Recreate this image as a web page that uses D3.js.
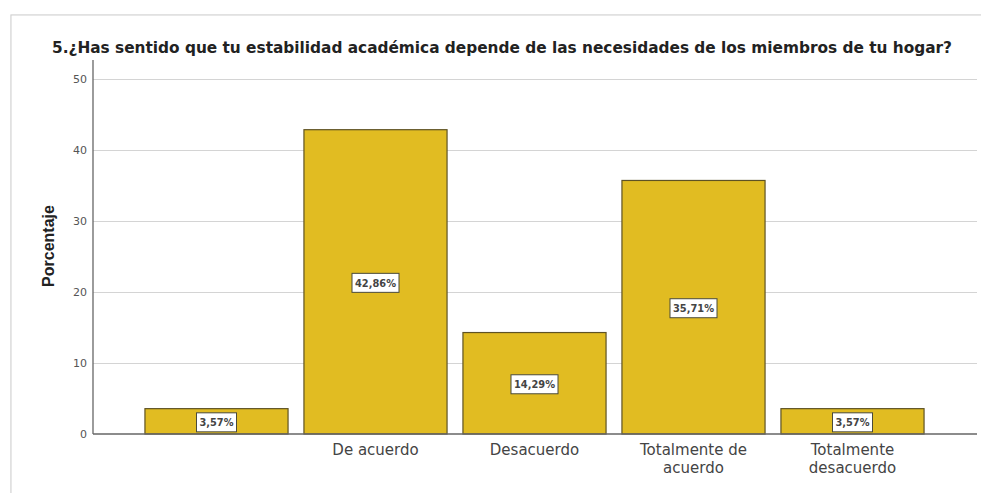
<!DOCTYPE html>
<html>
<head>
<meta charset="utf-8">
<script src="https://d3js.org/d3.v7.min.js"></script>
<style>
  body { margin: 0; background: #fff; }
  svg { display: block; font-family: "Liberation Sans", Arial, sans-serif; }
  .grid line { stroke: #d4d4d4; }
  .grid path { display: none; }
  .ytick text { fill: #555; font-size: 11px; font-family: "DejaVu Sans", sans-serif; }
  .xlab { fill: #444; font-size: 15px; font-family: "DejaVu Sans", sans-serif; }
  .bar { fill: #e1bc22; stroke: #5e5224; stroke-width: 1.2; }
  .lbl-box { fill: #fff; stroke: #4a4a3a; stroke-width: 1; }
  .lbl { fill: #444; font-size: 11px; font-weight: bold; font-family: "DejaVu Sans", sans-serif; }
</style>
</head>
<body>
<div id="chart"></div>
<script>
// categories (first one has no label in the original output)
const categories = ["", "De acuerdo", "Desacuerdo", "Totalmente de acuerdo", "Totalmente desacuerdo"];
const catLines = [[""], ["De acuerdo"], ["Desacuerdo"], ["Totalmente de", "acuerdo"], ["Totalmente", "desacuerdo"]];
const values = [3.57, 42.86, 14.29, 35.71, 3.57];
const valueLabels = ["3,57%", "42,86%", "14,29%", "35,71%", "3,57%"];
const yTicks = [0, 10, 20, 30, 40, 50];

const W = 981, H = 493;
const svg = d3.select("#chart").append("svg").attr("width", W).attr("height", H);

// frame with light shadow
svg.append("rect").attr("x", 12).attr("y", 16).attr("width", W).attr("height", H)
  .attr("fill", "none").attr("stroke", "#e8e8e8").attr("stroke-width", 3);
svg.append("rect").attr("x", 11).attr("y", 15).attr("width", W).attr("height", H)
  .attr("fill", "#fff").attr("stroke", "#cfcfcf").attr("stroke-width", 1);

const axisX = 93, axisRight = 977;
const y = d3.scaleLinear().domain([0, 50]).range([434, 79]);
const x = d3.scaleBand().domain(categories).range([137, 932])
  .paddingInner(0.1).paddingOuter(0.05);

// title
svg.append("text").attr("x", 52).attr("y", 53)
  .attr("font-family", "'DejaVu Sans', sans-serif")
  .attr("font-size", "15px").attr("font-weight", "bold").attr("fill", "#222")
  .attr("textLength", 900).attr("lengthAdjust", "spacingAndGlyphs")
  .text("5.¿Has sentido que tu estabilidad académica depende de las necesidades de los miembros de tu hogar?");

// gridlines
svg.append("g").attr("class", "grid")
  .attr("transform", `translate(${axisX},0)`)
  .call(d3.axisRight(y).tickValues(yTicks.slice(1)).tickSize(axisRight - axisX).tickFormat(""));

// y tick labels
svg.append("g").attr("class", "ytick")
  .selectAll("text").data(yTicks).join("text")
  .attr("x", 87).attr("y", d => y(d)).attr("dy", "0.35em")
  .attr("text-anchor", "end").text(d => d);

// bars
svg.selectAll(".bar").data(values).join("rect")
  .attr("class", "bar")
  .attr("x", (d, i) => x(categories[i]))
  .attr("y", d => y(d))
  .attr("width", x.bandwidth())
  .attr("height", d => y(0) - y(d));

// axes lines
svg.append("line").attr("x1", axisX).attr("x2", axisX).attr("y1", 60).attr("y2", y(0))
  .attr("stroke", "#666").attr("stroke-width", 1.3);
svg.append("line").attr("x1", axisX).attr("x2", axisRight).attr("y1", y(0)).attr("y2", y(0))
  .attr("stroke", "#666").attr("stroke-width", 1.3);

// value labels
const lg = svg.selectAll(".vl").data(values).join("g").attr("class", "vl")
  .attr("transform", (d, i) => `translate(${x(categories[i]) + x.bandwidth() / 2},${(y(d) + y(0)) / 2 + 1})`);
lg.append("rect").attr("class", "lbl-box")
  .attr("x", (d, i) => valueLabels[i].length === 5 ? -20 : -23.5)
  .attr("y", -9.5).attr("height", 19)
  .attr("width", (d, i) => valueLabels[i].length === 5 ? 40 : 47);
lg.append("text").attr("class", "lbl").attr("text-anchor", "middle").attr("dy", "0.36em")
  .attr("textLength", (d, i) => valueLabels[i].length === 5 ? 34 : 41)
  .attr("lengthAdjust", "spacingAndGlyphs")
  .text((d, i) => valueLabels[i]);

// x category labels (one text per line)
catLines.forEach((lines, i) => {
  svg.selectAll(null).data(lines).join("text").attr("class", "xlab")
    .attr("text-anchor", "middle")
    .attr("x", x(categories[i]) + x.bandwidth() / 2)
    .attr("y", (d, j) => 455 + j * 17.8)
    .text(d => d);
});

// y axis title
svg.append("text").attr("transform", "translate(54,246) rotate(-90)")
  .attr("text-anchor", "middle").attr("font-size", "16px").attr("font-weight", "bold").attr("fill", "#222")
  .text("Porcentaje");
</script>
</body>
</html>
